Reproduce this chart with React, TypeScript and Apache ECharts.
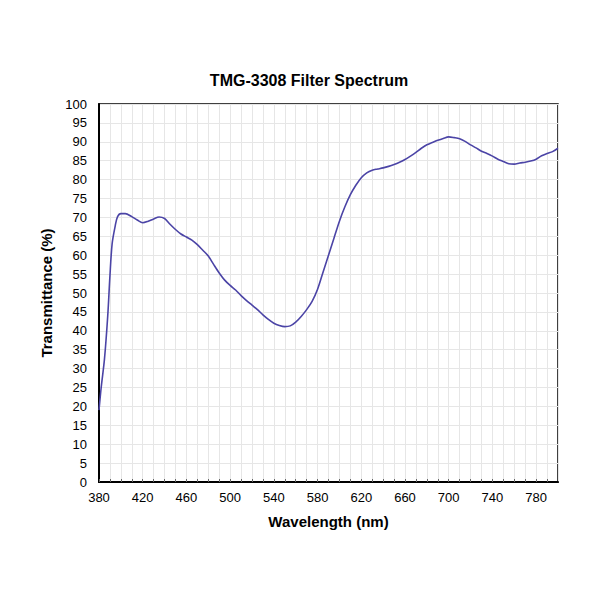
import React, { useEffect, useRef } from "react";
import * as echarts from "echarts";

const wavelengths = [
  380, 382, 385, 388, 390, 392, 395, 397, 400, 404, 410, 415, 420, 425, 430, 435, 440, 445, 450, 455,
  460, 465, 470, 475, 480, 485, 490, 495, 500, 505, 510, 515, 520, 525, 530, 535, 540, 545, 550, 555,
  560, 565, 570, 575, 580, 585, 590, 595, 600, 605, 610, 615, 620, 625, 630, 635, 640, 645, 650, 655,
  660, 665, 670, 675, 680, 685, 690, 695, 700, 705, 710, 715, 720, 725, 730, 735, 740, 745, 750, 755,
  760, 765, 770, 775, 780, 785, 790, 795, 800,
];
const transmittance = [
  19, 25, 32.5, 44, 54.5, 63, 68, 70.2, 71, 71, 70.2, 69.3, 68.6, 69, 69.6, 70.1, 69.7, 68.2, 66.8, 65.6,
  64.8, 64, 62.8, 61.3, 59.8, 57.5, 55.3, 53.4, 52, 50.8, 49.3, 48, 46.8, 45.6, 44.2, 43, 42, 41.4, 41.1, 41.3,
  42.3, 43.8, 45.6, 47.8, 51, 55.5, 60, 64.5, 69, 72.8, 76, 78.5, 80.5, 81.8, 82.5, 82.8, 83.1, 83.5, 84, 84.6,
  85.3, 86.2, 87.2, 88.3, 89.2, 89.8, 90.4, 90.9, 91.3, 91.1, 90.8, 90.1, 89.2, 88.4, 87.5, 86.9, 86.2, 85.4, 84.8, 84.2,
  84.1, 84.4, 84.6, 84.9, 85.4, 86.3, 86.9, 87.4, 88.3,
];
const xLabelStep = 40;

const FONT = "'Liberation Sans', Arial, sans-serif";

export default function App() {
  const ref = useRef<HTMLDivElement>(null);
  useEffect(() => {
    document.body.style.margin = "0";
    if (!ref.current) return;
    const chart = echarts.init(ref.current, null, { renderer: "svg" });
    chart.setOption({
      animation: false,
      backgroundColor: "#fff",
      title: {
        text: "TMG-3308 Filter Spectrum",
        left: 304,
        textAlign: "center",
        top: 67,
        textStyle: { fontFamily: FONT, fontSize: 16, fontWeight: "bold", color: "#000" },
      },
      grid: {
        left: 99,
        right: 42,
        top: 104,
        bottom: 118,
        show: true,
        borderColor: "#000",
        borderWidth: 1.5,
        backgroundColor: "transparent",
      },
      xAxis: {
        type: "value",
        min: 380,
        max: 800,
        interval: 10,
        name: "Wavelength (nm)",
        nameLocation: "middle",
        nameGap: 32,
        nameTextStyle: { fontFamily: FONT, fontSize: 15, fontWeight: "bold", color: "#000" },
        axisLine: { show: true, onZero: false, lineStyle: { color: "#000", width: 2 } },
        axisTick: { show: true, inside: true, length: 3, lineStyle: { color: "#666", width: 1 } },
        axisLabel: {
          fontFamily: FONT,
          fontSize: 13,
          color: "#000",
          margin: 9,
          showMaxLabel: false,
          formatter: (v: number) => ((v - 380) % xLabelStep === 0 ? String(v) : ""),
        },
        splitLine: { show: true, lineStyle: { color: "#e6e6e6", width: 1 } },
      },
      yAxis: {
        type: "value",
        min: 0,
        max: 100,
        interval: 5,
        name: "Transmittance (%)",
        nameLocation: "middle",
        nameGap: 41,
        nameTextStyle: { fontFamily: FONT, fontSize: 15, fontWeight: "bold", color: "#000" },
        axisLine: { show: true, lineStyle: { color: "#000", width: 2 } },
        axisTick: { show: false },
        axisLabel: { fontFamily: FONT, fontSize: 13, color: "#000", margin: 12 },
        splitLine: { show: true, lineStyle: { color: "#e6e6e6", width: 1 } },
      },
      series: [
        {
          type: "line",
          data: wavelengths.map((w, i) => [w, transmittance[i]]),
          smooth: 0.3,
          showSymbol: false,
          lineStyle: { color: "#4b44a6", width: 1.6 },
        },
      ],
    });
    return () => chart.dispose();
  }, []);
  return <div ref={ref} style={{ width: 600, height: 600 }} />;
}
